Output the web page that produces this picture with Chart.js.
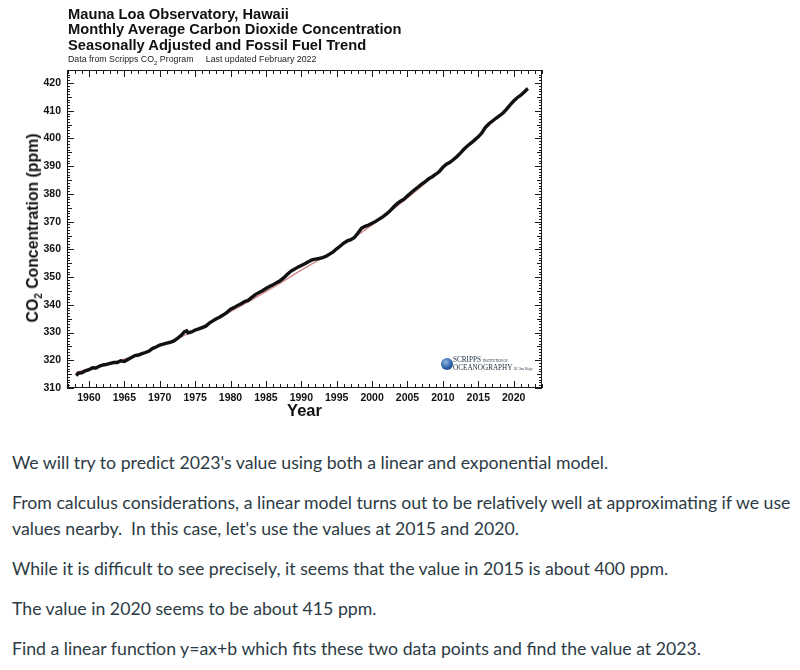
<!DOCTYPE html>
<html lang="en">
<head>
    <meta charset="UTF-8">
    <title>Mauna Loa CO2</title>
    <script src="https://cdn.jsdelivr.net/npm/chart.js"></script>
    <style>
        body { margin: 0; background: #fff; width: 800px; height: 670px; position: relative; overflow: hidden; }
        #wrap { position: absolute; left: 0; top: 0; width: 560px; height: 425px; }
        .head { position: absolute; left: 68px; top: 7px; font: bold 14.7px "Liberation Sans", Arial, sans-serif; line-height: 15.4px; color: #111; }
        .sub { position: absolute; left: 68px; top: 54px; font: 8.8px "Liberation Sans", Arial, sans-serif; color: #222; white-space: pre; }
        .sub sub { font-size: 6px; }
        .ytitle { position: absolute; left: 34px; top: 228px; transform: translate(-50%, -50%) rotate(-90deg); font: bold 15.8px "Liberation Sans", Arial, sans-serif; color: #111; white-space: nowrap; }
        .ytitle sub { font-size: 10px; }
        .logo { position: absolute; left: 441px; top: 358px; width: 12px; height: 12px; border-radius: 50%; background: radial-gradient(circle at 40% 35%, #8fb6e0, #2a5fa8 55%, #163b73); }
        .logotxt { position: absolute; left: 453px; top: 357px; font: 7.2px "Liberation Serif", serif; color: #234; line-height: 7px; white-space: nowrap; }
        .logotxt small { font-size: 3.2px; }
        #text { position: absolute; left: 12px; top: 450px; width: 788px; font-family: Lato, sans-serif; font-size: 17.7px; line-height: 26px; color: #2d3b45; }
        #text p { margin: 0 0 14px 0; }
    </style>
</head>
<body>
    <div id="wrap">
        <canvas id="co2Chart" width="560" height="425"></canvas>
        <div class="head">Mauna Loa Observatory, Hawaii<br>Monthly Average Carbon Dioxide Concentration<br>Seasonally Adjusted and Fossil Fuel Trend</div>
        <div class="sub">Data from Scripps CO<sub>2</sub> Program     Last updated February 2022</div>
        <div class="ytitle">CO<sub>2</sub> Concentration (ppm)</div>
        <div class="logo"></div>
        <div class="logotxt">SCRIPPS <small>INSTITUTION OF</small><br>OCEANOGRAPHY <small>UC San Diego</small></div>
    </div>
    <div id="text">
        <p>We will try to predict 2023's value using both a linear and exponential model.</p>
        <p>From calculus considerations, a linear model turns out to be relatively well at approximating if we use values nearby.&nbsp; In this case, let's use the values at 2015 and 2020.</p>
        <p>While it is difficult to see precisely, it seems that the value in 2015 is about 400 ppm.</p>
        <p>The value in 2020 seems to be about 415 ppm.</p>
        <p>Find a linear function y=ax+b which fits these two data points and find the value at 2023.</p>
    </div>

    <script>
        // seasonally adjusted monthly average, every half year
        const seaYears = [
            1958.2, 1958.5, 1959.0, 1959.5, 1960.0, 1960.5, 1961.0, 1961.5, 1962.0, 1962.5,
            1963.0, 1963.5, 1964.0, 1964.5, 1965.0, 1965.5, 1966.0, 1966.5, 1967.0, 1967.5,
            1968.0, 1968.5, 1969.0, 1969.5, 1970.0, 1970.5, 1971.0, 1971.5, 1972.0, 1972.5,
            1973.0, 1973.5, 1973.8, 1974.0, 1974.5, 1975.0, 1975.5, 1976.0, 1976.5, 1977.0,
            1977.5, 1978.0, 1978.5, 1979.0, 1979.5, 1980.0, 1980.5, 1981.0, 1981.5, 1982.0,
            1982.5, 1983.0, 1983.5, 1984.0, 1984.5, 1985.0, 1985.5, 1986.0, 1986.5, 1987.0,
            1987.5, 1988.0, 1988.5, 1989.0, 1989.5, 1990.0, 1990.5, 1991.0, 1991.5, 1992.0,
            1992.5, 1993.0, 1993.5, 1994.0, 1994.5, 1995.0, 1995.5, 1996.0, 1996.5, 1997.0,
            1997.5, 1998.0, 1998.5, 1999.0, 1999.5, 2000.0, 2000.5, 2001.0, 2001.5, 2002.0,
            2002.5, 2003.0, 2003.5, 2004.0, 2004.5, 2005.0, 2005.5, 2006.0, 2006.5, 2007.0,
            2007.5, 2008.0, 2008.5, 2009.0, 2009.5, 2010.0, 2010.5, 2011.0, 2011.5, 2012.0,
            2012.5, 2013.0, 2013.5, 2014.0, 2014.5, 2015.0, 2015.5, 2016.0, 2016.5, 2017.0,
            2017.5, 2018.0, 2018.5, 2019.0, 2019.5, 2020.0, 2020.5, 2021.0, 2021.5, 2022.0
        ];
        const seaCO2 = [
            314.5, 315.4, 315.5, 316.2, 316.6, 317.3, 317.2, 317.9, 318.3, 318.5,
            318.9, 319.2, 319.2, 319.8, 319.6, 320.3, 321.0, 321.7, 321.9, 322.4,
            322.8, 323.3, 324.3, 324.8, 325.5, 325.8, 326.2, 326.5, 327.0, 327.9,
            328.9, 330.3, 330.6, 329.9, 330.2, 330.9, 331.3, 331.8, 332.3, 333.4,
            334.2, 335.0, 335.6, 336.4, 337.3, 338.4, 339.0, 339.8, 340.4, 341.2,
            341.6, 342.7, 343.7, 344.4, 345.1, 345.9, 346.6, 347.2, 348.0, 348.7,
            349.7, 350.9, 352.1, 352.8, 353.6, 354.2, 354.8, 355.5, 356.2, 356.5,
            356.7, 357.0, 357.5, 358.3, 359.1, 360.2, 361.2, 362.3, 363.1, 363.5,
            364.3, 365.9, 367.6, 368.3, 368.8, 369.4, 370.1, 370.9, 371.7, 372.7,
            373.8, 375.2, 376.4, 377.4, 378.1, 379.3, 380.4, 381.5, 382.5, 383.5,
            384.4, 385.5, 386.2, 387.1, 388.1, 389.6, 390.7, 391.4, 392.4, 393.5,
            394.8, 396.2, 397.4, 398.4, 399.5, 400.6, 402.0, 404.0, 405.3, 406.3,
            407.3, 408.2, 409.2, 410.6, 412.1, 413.5, 414.7, 415.6, 416.8, 418.0
        ];

        // fossil fuel trend (thin red line)
        const trendYears = [1958.2, 1960, 1965, 1970, 1975, 1980, 1985, 1990, 1995, 2000, 2005, 2010, 2015, 2020, 2022];
        const trendCO2 = [315.6, 316.9, 320.4, 325.2, 330.8, 337.6, 344.8, 352.5, 360.1, 368.8, 378.6, 389.4, 400.9, 413.4, 418.3];

        const toPoints = (xs, ys) => xs.map((x, i) => ({ x: x, y: ys[i] }));

        // frame with inward ticks on all four sides, like the IDL plot
        const frameTicks = {
            id: 'frameTicks',
            afterDatasetsDraw(chart) {
                const { ctx, chartArea: a, scales: { x, y } } = chart;
                ctx.save();
                ctx.strokeStyle = '#1a1a1a';
                ctx.lineWidth = 1;
                ctx.strokeRect(a.left + 0.5, a.top + 0.5, a.width - 1, a.height - 1);
                ctx.beginPath();
                x.ticks.forEach(t => {
                    const px = Math.round(x.getPixelForValue(t.value)) + 0.5;
                    const len = t.value % 5 === 0 ? 7 : 4;
                    ctx.moveTo(px, a.bottom); ctx.lineTo(px, a.bottom - len);
                    ctx.moveTo(px, a.top); ctx.lineTo(px, a.top + len);
                });
                y.ticks.forEach(t => {
                    const py = Math.round(y.getPixelForValue(t.value)) + 0.5;
                    const len = t.value % 10 === 0 ? 7 : (t.value % 5 === 0 ? 5 : 3);
                    ctx.moveTo(a.left, py); ctx.lineTo(a.left + len, py);
                    ctx.moveTo(a.right, py); ctx.lineTo(a.right - len, py);
                });
                ctx.stroke();
                ctx.restore();
            }
        };

        const tickFont = { family: '"Liberation Sans", Arial, sans-serif', size: 10.5, weight: 'bold' };

        new Chart(document.getElementById('co2Chart'), {
            type: 'line',
            data: {
                datasets: [{
                    data: toPoints(seaYears, seaCO2),
                    borderColor: '#111',
                    borderWidth: 3.4,
                    pointRadius: 0,
                    tension: 0,
                    order: 0
                }, {
                    data: toPoints(trendYears, trendCO2),
                    borderColor: '#d48b8b',
                    borderWidth: 1.5,
                    pointRadius: 0,
                    cubicInterpolationMode: 'monotone',
                    order: 1
                }]
            },
            options: {
                responsive: false,
                animation: false,
                layout: { padding: { top: 70, right: 18, left: 0, bottom: 0 } },
                plugins: { legend: { display: false }, tooltip: { enabled: false } },
                scales: {
                    x: {
                        type: 'linear',
                        min: 1956.9,
                        max: 2024,
                        grid: { display: false, drawTicks: false },
                        border: { display: false },
                        afterFit: s => { s.height = 37; },
                        ticks: {
                            stepSize: 1,
                            includeBounds: false,
                            autoSkip: false,
                            maxRotation: 0,
                            padding: 4,
                            color: '#111',
                            font: tickFont,
                            callback: v => (v % 5 === 0 ? String(v) : '')
                        },
                        title: {
                            display: true,
                            text: 'Year',
                            color: '#111',
                            font: { family: '"Liberation Sans", Arial, sans-serif', size: 16.5, weight: 'bold' },
                            padding: { top: 0, bottom: 4 }
                        }
                    },
                    y: {
                        min: 310,
                        max: 424.7,
                        grid: { display: false, drawTicks: false },
                        border: { display: false },
                        afterFit: s => { s.width = 67; },
                        ticks: {
                            stepSize: 1,
                            autoSkip: false,
                            padding: 6,
                            color: '#111',
                            font: tickFont,
                            callback: v => (v % 10 === 0 ? String(v) : '')
                        }
                    }
                }
            },
            plugins: [frameTicks]
        });
    </script>
</body>
</html>
